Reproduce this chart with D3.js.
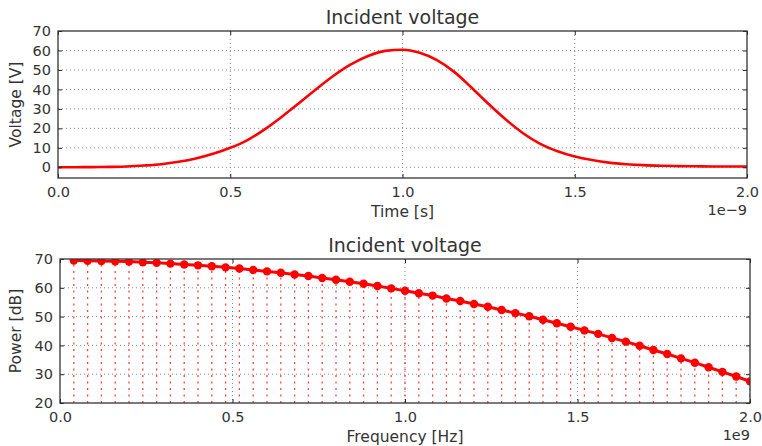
<!DOCTYPE html>
<html><head><meta charset="utf-8">
<script src="https://cdn.jsdelivr.net/npm/d3@7"></script>
<style>
html,body{margin:0;padding:0;background:#fff;}
svg{display:block;font-family:"DejaVu Sans",sans-serif;}
</style></head>
<body><svg id="c" width="762" height="446"></svg>
<script>
// ---- data (time in units of 1e-9 s, frequency in units of 1e9 Hz) ----
const timeNs = [0.00,0.05,0.10,0.15,0.20,0.25,0.30,0.35,0.40,0.45,0.50,0.55,0.60,0.65,0.70,0.75,0.80,0.85,0.90,0.95,
                1.00,1.05,1.10,1.15,1.20,1.25,1.30,1.35,1.40,1.45,1.50,1.55,1.60,1.65,1.70,1.75,1.80,1.85,1.90,1.95,2.00];
const voltage = [0.0,0.05,0.1,0.2,0.4,0.9,1.6,2.8,4.5,6.9,10.0,14.0,19.5,26.0,33.0,40.2,47.0,52.8,57.2,59.8,
                 60.4,58.8,55.0,49.0,41.0,32.5,24.5,17.5,12.0,8.2,5.5,3.7,2.4,1.6,1.1,0.8,0.6,0.5,0.4,0.4,0.4];
const freqG = [0.04,0.08,0.12,0.16,0.20,0.24,0.28,0.32,0.36,0.40,0.44,0.48,0.52,0.56,0.60,0.64,0.68,0.72,0.76,0.80,
               0.84,0.88,0.92,0.96,1.00,1.04,1.08,1.12,1.16,1.20,1.24,1.28,1.32,1.36,1.40,1.44,1.48,1.52,1.56,1.60,
               1.64,1.68,1.72,1.76,1.80,1.84,1.88,1.92,1.96,2.00];
const powerDb = [69.5,69.4,69.3,69.2,69.1,68.9,68.7,68.4,68.1,67.8,67.5,67.1,66.7,66.2,65.7,65.2,64.6,64.1,63.4,62.8,
                 62.1,61.4,60.6,59.8,59.0,58.1,57.3,56.3,55.4,54.4,53.4,52.3,51.2,50.1,48.9,47.7,46.5,45.2,44.0,42.6,
                 41.3,39.9,38.4,37.0,35.5,34.0,32.4,30.8,29.2,27.5];
const xTicks = [0,0.5,1.0,1.5,2.0];
const vTicks = [0,10,20,30,40,50,60,70];
const pTicks = [20,30,40,50,60,70];

const svg = d3.select("#c");
const RED = "#ff0000";

function panel(o){
  const g = svg.append("g");
  const x = d3.scaleLinear().domain(o.xd).range([o.l,o.r]);
  const y = d3.scaleLinear().domain(o.yd).range([o.b,o.t]);
  g.selectAll(".gx").data(o.xt.slice(1,-1)).join("line")
    .attr("x1",d=>x(d)).attr("x2",d=>x(d)).attr("y1",o.t).attr("y2",o.b)
    .attr("stroke","#8a8a8a").attr("stroke-width",1).attr("stroke-dasharray","1,3");
  g.selectAll(".gy").data(o.yt.filter(v=>v>o.yd[0]&&v<o.yd[1])).join("line")
    .attr("y1",d=>y(d)).attr("y2",d=>y(d)).attr("x1",o.l).attr("x2",o.r)
    .attr("stroke","#8a8a8a").attr("stroke-width",1).attr("stroke-dasharray","1,3");
  return {g,x,y};
}

function frame(p,o){
  const {g,x,y} = p;
  const ax = d3.axisBottom(x).tickValues(o.xt).tickFormat(d3.format(".1f")).tickSizeInner(-4).tickSizeOuter(0).tickPadding(9);
  g.append("g").attr("transform",`translate(0,${o.b})`).call(ax);
  const axT = d3.axisTop(x).tickValues(o.xt).tickFormat("").tickSizeInner(-4).tickSizeOuter(0);
  g.append("g").attr("transform",`translate(0,${o.t})`).call(axT);
  const ay = d3.axisLeft(y).tickValues(o.yt).tickFormat(d3.format("d")).tickSizeInner(-4).tickSizeOuter(0).tickPadding(7);
  g.append("g").attr("transform",`translate(${o.l},0)`).call(ay);
  const ayR = d3.axisRight(y).tickValues(o.yt).tickFormat("").tickSizeInner(-4).tickSizeOuter(0);
  g.append("g").attr("transform",`translate(${o.r},0)`).call(ayR);
  g.selectAll(".domain").remove();
  g.selectAll(".tick line").attr("stroke","#222");
  g.selectAll(".tick text").attr("font-size",14.5).attr("fill","#333").attr("font-family","DejaVu Sans");
  g.append("rect").attr("x",o.l).attr("y",o.t).attr("width",o.r-o.l).attr("height",o.b-o.t)
    .attr("fill","none").attr("stroke","#333").attr("stroke-width",1.3);
  g.append("text").attr("x",(o.l+o.r)/2).attr("y",o.t-7).attr("text-anchor","middle")
    .attr("font-size",19).attr("fill","#333").text(o.title);
  g.append("text").attr("x",(o.l+o.r)/2).attr("y",o.b+39).attr("text-anchor","middle")
    .attr("font-size",15.5).attr("fill","#333").text(o.xlabel);
  g.append("text").attr("transform",`translate(21,${(o.t+o.b)/2}) rotate(-90)`).attr("text-anchor","middle")
    .attr("font-size",15.5).attr("fill","#333").text(o.ylabel);
  g.append("text").attr("x",o.r).attr("y",o.b+37).attr("text-anchor","end")
    .attr("font-size",14.5).attr("fill","#333").text(o.exp);
}

// ---- top panel ----
const o1 = {l:58,r:747,t:31,b:178,xd:[0,2],yd:[-5.5,70],xt:xTicks,yt:vTicks,
  title:"Incident voltage",xlabel:"Time [s]",ylabel:"Voltage [V]",exp:"1e\u22129"};
const p1 = panel(o1);
const line1 = d3.line().x((d,i)=>p1.x(timeNs[i])).y(d=>p1.y(d)).curve(d3.curveMonotoneX);
p1.g.append("path").datum(voltage).attr("d",line1).attr("fill","none")
  .attr("stroke",RED).attr("stroke-width",2.6).attr("stroke-linejoin","round");
frame(p1,o1);

// ---- bottom panel ----
const o2 = {l:60,r:750,t:259,b:403,xd:[0,2],yd:[20,70],xt:xTicks,yt:pTicks,
  title:"Incident voltage",xlabel:"Frequency [Hz]",ylabel:"Power [dB]",exp:"1e9"};
const p2 = panel(o2);
svg.append("clipPath").attr("id","cp2").append("rect")
  .attr("x",o2.l).attr("y",o2.t).attr("width",o2.r-o2.l).attr("height",o2.b-o2.t);
const sg = p2.g.append("g").attr("clip-path","url(#cp2)");
sg.selectAll(".stem").data(powerDb).join("line")
  .attr("x1",(d,i)=>p2.x(freqG[i])).attr("x2",(d,i)=>p2.x(freqG[i]))
  .attr("y1",o2.b).attr("y2",d=>p2.y(d))
  .attr("stroke",RED).attr("stroke-opacity",0.75).attr("stroke-width",1.3).attr("stroke-dasharray","2,4.5");
const line2 = d3.line().x((d,i)=>p2.x(freqG[i])).y(d=>p2.y(d));
sg.append("path").datum(powerDb).attr("d",line2).attr("fill","none")
  .attr("stroke",RED).attr("stroke-width",3);
sg.selectAll(".mk").data(powerDb).join("circle")
  .attr("cx",(d,i)=>p2.x(freqG[i])).attr("cy",d=>p2.y(d)).attr("r",4.2).attr("fill",RED);
frame(p2,o2);
</script></body></html>
